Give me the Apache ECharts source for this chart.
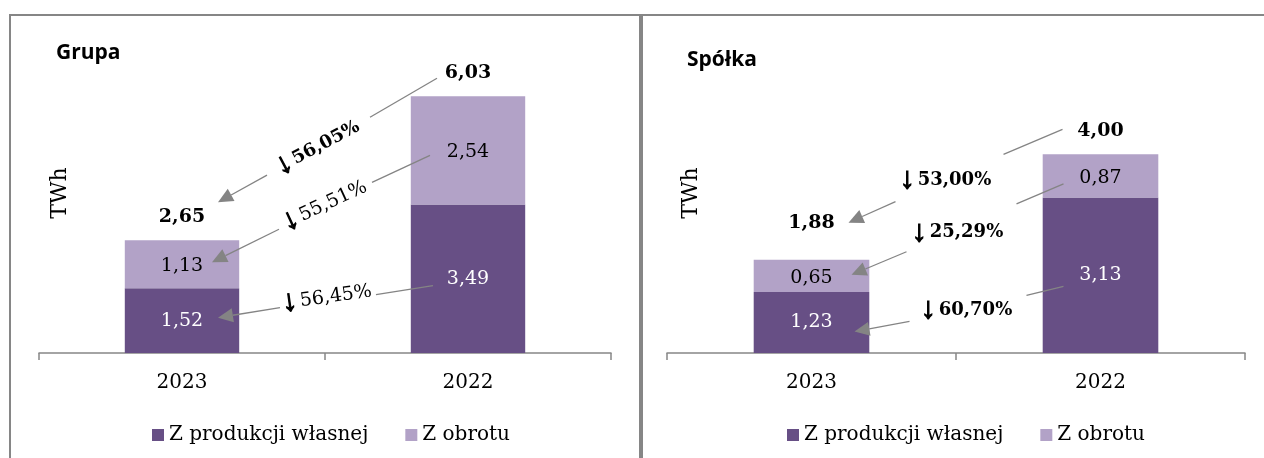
<!DOCTYPE html>
<html><head><meta charset="utf-8">
<script src="https://cdn.jsdelivr.net/npm/echarts@6/dist/echarts.min.js"></script>
<style>html,body{margin:0;padding:0;background:#fff}#c{width:1264px;height:458px}</style>
</head><body><div id="c"></div>
<script>
// ---- data ----
const categories = ['2023', '2022'];
const seriesNames = ['Z produkcji własnej', 'Z obrotu'];
const grupaOwn = [1.52, 3.49];
const grupaTrade = [1.13, 2.54];
const grupaTotal = [2.65, 6.03];
const spolkaOwn = [1.23, 3.13];
const spolkaTrade = [0.65, 0.87];
const spolkaTotal = [1.88, 4.00];
const panelTitles = ['Grupa', 'Spółka'];
const unitLabel = 'TWh';
const grupaChanges = ['56,05%', '55,51%', '56,45%'];   // total, trade, own
const spolkaChanges = ['53,00%', '25,29%', '60,70%'];

// ---- styles ----
const DARK = '#674F85', LIGHT = '#B2A2C7', GREY = '#868686', ARROW = '#848484';
const SERIF = '"DejaVu Serif", "Liberation Serif", serif';
const fmt = v => v.toFixed(2).replace('.', ',');

const panels = [
  {own: grupaOwn, trade: grupaTrade, total: grupaTotal, changes: grupaChanges, yMax: 7,
   grid: {left: 39, width: 572, top: 55, height: 298}, legendLeft: 147,
   totalOffsets: [-23, -23]},
  {own: spolkaOwn, trade: spolkaTrade, total: spolkaTotal, changes: spolkaChanges, yMax: 6,
   grid: {left: 667, width: 578, top: 55, height: 298}, legendLeft: 782,
   totalOffsets: [-37, -23]}
];

const chart = echarts.init(document.getElementById('c'), null, {renderer: 'canvas'});

const option = {
  animation: false,
  backgroundColor: '#fff',
  grid: panels.map(p => p.grid),
  xAxis: panels.map((p, i) => ({
    type: 'category', gridIndex: i, data: categories,
    axisLine: {lineStyle: {color: GREY, width: 1.5}},
    axisTick: {show: true, length: 7, interval: 0, lineStyle: {color: GREY, width: 1.5}},
    axisLabel: {fontFamily: SERIF, fontSize: 20, color: '#000', margin: 20}
  })),
  yAxis: panels.map((p, i) => ({
    type: 'value', gridIndex: i, min: 0, max: p.yMax, show: false, splitLine: {show: false}
  })),
  legend: panels.map(p => ({
    data: seriesNames, left: p.legendLeft, top: 420, itemWidth: 12, itemHeight: 12, itemGap: 37,
    icon: 'rect', selectedMode: false,
    textStyle: {fontFamily: SERIF, fontSize: 20, color: '#000'}
  })),
  series: []
};
panels.forEach((p, i) => {
  option.series.push({
    name: seriesNames[0], type: 'bar', stack: 's' + i, xAxisIndex: i, yAxisIndex: i,
    data: p.own, barWidth: '40%', itemStyle: {color: DARK},
    label: {show: true, position: 'inside', formatter: d => fmt(d.value), color: '#fff', fontFamily: SERIF, fontSize: 19}
  });
  option.series.push({
    name: seriesNames[1], type: 'bar', stack: 's' + i, xAxisIndex: i, yAxisIndex: i,
    data: p.trade, barWidth: '40%', itemStyle: {color: LIGHT},
    label: {show: true, position: 'inside', offset: [0, 2], formatter: d => fmt(d.value), color: '#000', fontFamily: SERIF, fontSize: 19}
  });
});
chart.setOption(option);

// ---- annotations (offsets in px relative to data anchors) ----
function P(g, c, v) { return chart.convertToPixel({xAxisIndex: g, yAxisIndex: g}, [c, v]); }
function anchor(g, kind, c) {
  const p = panels[g];
  if (kind === 'total') { const q = P(g, c, p.total[c]); return [q[0], q[1] + p.totalOffsets[c]]; }
  if (kind === 'trade') return P(g, c, p.own[c] + p.trade[c] / 2);
  return P(g, c, p.own[c] / 2);
}
const annos = [
  {g: 0, k: 'total', idx: 0, bold: true,  rot: 28, line: [[-98, 44], [-31, 5]],  txt: [136, -70], arrow: [[85, -42], [36, -15]]},
  {g: 0, k: 'trade', idx: 1, bold: false, rot: 25, line: [[-96, 32], [-38, 5]],  txt: [143, -59], arrow: [[97, -35], [30, -2]]},
  {g: 0, k: 'own',   idx: 2, bold: false, rot: 8,  line: [[-92, 16], [-35, 7]],  txt: [145, -23], arrow: [[98, -13], [36, -3]]},
  {g: 1, k: 'total', idx: 0, bold: true,  rot: 0,  line: [[-97, 23], [-38, -2]], txt: [134, -42], arrow: [[84, -21], [37, 0]]},
  {g: 1, k: 'trade', idx: 1, bold: true,  rot: 0,  line: [[-84, 28], [-37, 8]],  txt: [146, -43], arrow: [[95, -24], [40, -1]]},
  {g: 1, k: 'own',   idx: 2, bold: true,  rot: 0,  line: [[-74, 20], [-37, 11]], txt: [155, -12], arrow: [[98, -1], [43, 9]]}
];

const graphic = [];
const Z = 100;
// panel borders
graphic.push({type: 'line', z: Z, shape: {x1: 9, y1: 15, x2: 1264, y2: 15}, style: {stroke: GREY, lineWidth: 2}});
graphic.push({type: 'line', z: Z, shape: {x1: 10, y1: 15, x2: 10, y2: 458}, style: {stroke: GREY, lineWidth: 2}});
graphic.push({type: 'line', z: Z, shape: {x1: 641, y1: 15, x2: 641, y2: 458}, style: {stroke: GREY, lineWidth: 4}});

panels.forEach((p, g) => {
  const bx = g === 0 ? 10 : 641;
  graphic.push({type: 'text', z: Z, x: bx + 46, y: 53 + g * 7, style: {text: panelTitles[g], fontFamily: '"Open Sans", sans-serif', fontWeight: 'bold', fontSize: 21, fill: '#000', textAlign: 'left', textVerticalAlign: 'middle'}});
  graphic.push({type: 'text', z: Z, x: bx + 50, y: 193, rotation: Math.PI / 2, style: {text: unitLabel, fontFamily: SERIF, fontSize: 22, fill: '#000', textAlign: 'center', textVerticalAlign: 'middle'}});
  p.total.forEach((t, c) => {
    const a = anchor(g, 'total', c);
    graphic.push({type: 'text', z: Z, x: a[0], y: a[1], style: {text: fmt(t), fontFamily: SERIF, fontWeight: 'bold', fontSize: 19, fill: '#000', textAlign: 'center', textVerticalAlign: 'middle'}});
  });
});

annos.forEach(a => {
  const S = anchor(a.g, a.k, 1), T = anchor(a.g, a.k, 0);
  graphic.push({type: 'line', z: Z, shape: {x1: S[0] + a.line[0][0], y1: S[1] + a.line[0][1], x2: S[0] + a.line[1][0], y2: S[1] + a.line[1][1]}, style: {stroke: ARROW, lineWidth: 1.3}});
  const x1 = T[0] + a.arrow[0][0], y1 = T[1] + a.arrow[0][1], tx = T[0] + a.arrow[1][0], ty = T[1] + a.arrow[1][1];
  const dx = tx - x1, dy = ty - y1, L = Math.hypot(dx, dy), ux = dx / L, uy = dy / L;
  const hl = 15, hw = 7;
  const bxp = tx - ux * hl, byp = ty - uy * hl;
  graphic.push({type: 'line', z: Z, shape: {x1: x1, y1: y1, x2: bxp, y2: byp}, style: {stroke: ARROW, lineWidth: 1.3}});
  graphic.push({type: 'polygon', z: Z, shape: {points: [[tx, ty], [bxp - uy * hw, byp + ux * hw], [bxp + uy * hw, byp - ux * hw]]}, style: {fill: ARROW}});
  const pct = panels[a.g].changes[a.idx];
  graphic.push({type: 'text', z: Z, x: T[0] + a.txt[0], y: T[1] + a.txt[1], rotation: a.rot * Math.PI / 180,
    style: {text: '{ar|↓}{v|' + pct + '}', textAlign: 'center', textVerticalAlign: 'middle', fill: '#000',
      rich: {
        ar: {fontFamily: '"Liberation Serif", serif', fontWeight: 'bold', fontSize: 30, fill: '#000', stroke: '#000', lineWidth: 1.2, padding: [0, 3, 0, 0], verticalAlign: 'middle'},
        v: {fontFamily: SERIF, fontWeight: a.bold ? 'bold' : 'normal', fontSize: a.bold ? 18 : 19, fill: '#000', verticalAlign: 'middle'}
      }}});
});

chart.setOption({graphic: graphic});
</script>
</body></html>
